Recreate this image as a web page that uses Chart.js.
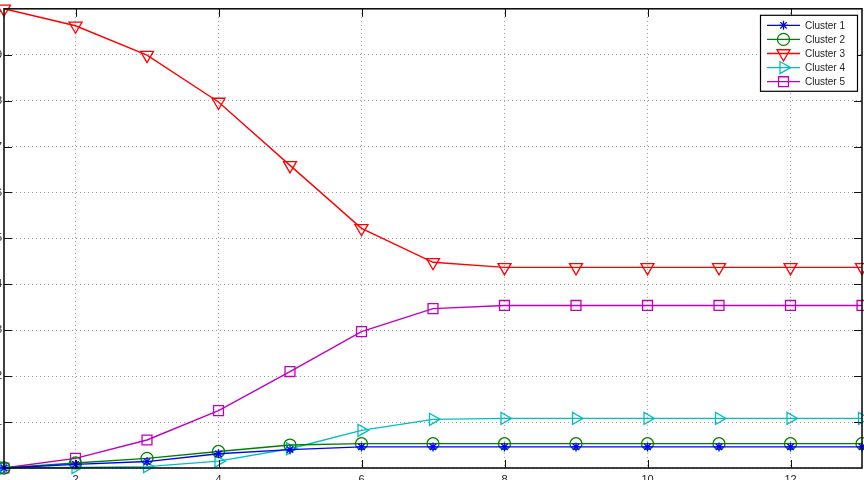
<!DOCTYPE html>
<html><head><meta charset="utf-8">
<script src="https://cdn.jsdelivr.net/npm/chart.js@4/dist/chart.umd.min.js"></script>
<style>
html,body{margin:0;padding:0;background:#fff;overflow:hidden;width:864px;height:480px;position:relative;}
#wrap{position:absolute;left:-60px;top:0;width:940px;height:500px;}
</style></head><body>
<div id="wrap"><canvas id="c"></canvas></div>
<script>
// ---- data ----
const iterations = [1, 2, 3, 4, 5, 6, 7, 8, 9, 10, 11, 12, 13];
const seriesLabels = ['Cluster 1', 'Cluster 2', 'Cluster 3', 'Cluster 4', 'Cluster 5'];
const cluster1 = [0, 0.008, 0.014, 0.031, 0.040, 0.046, 0.046, 0.046, 0.046, 0.046, 0.046, 0.046, 0.046];
const cluster2 = [0, 0.011, 0.021, 0.036, 0.050, 0.053, 0.053, 0.053, 0.053, 0.053, 0.053, 0.053, 0.053];
const cluster3 = [1.0, 0.963, 0.899, 0.797, 0.659, 0.522, 0.448, 0.437, 0.437, 0.437, 0.437, 0.437, 0.437];
const cluster4 = [0, 0.001, 0.003, 0.015, 0.042, 0.082, 0.106, 0.108, 0.108, 0.108, 0.108, 0.108, 0.108];
const cluster5 = [0, 0.021, 0.061, 0.125, 0.210, 0.297, 0.347, 0.354, 0.354, 0.354, 0.354, 0.354, 0.354];
const xTicks = [2, 4, 6, 8, 10, 12];
const yTicks = [0, 0.1, 0.2, 0.3, 0.4, 0.5, 0.6, 0.7, 0.8, 0.9, 1];
const yTickLabels = ['0', '0.1', '0.2', '0.3', '0.4', '0.5', '0.6', '0.7', '0.8', '0.9', '1'];

// ---- styles ----
const seriesValues = [cluster1, cluster2, cluster3, cluster4, cluster5];
const colors = ['#0000ff', '#008000', '#ff0000', '#00bfbf', '#bf00bf'];
const markers = [
  {style: 'star', rot: 0, r: 4.5},
  {style: 'circle', rot: 0, r: 6},
  {style: 'triangle', rot: 180, r: 7.5},
  {style: 'triangle', rot: 90, r: 7},
  {style: 'rect', rot: 0, r: 7}
];

const datasets = seriesLabels.map((lab, k) => ({
  label: lab,
  data: iterations.map((x, i) => ({x: x, y: seriesValues[k][i]})),
  borderColor: colors[k],
  backgroundColor: 'transparent',
  pointBackgroundColor: 'transparent',
  pointBorderColor: colors[k],
  pointStyle: markers[k].style,
  pointRotation: markers[k].rot,
  pointRadius: markers[k].r,
  pointHoverRadius: markers[k].r,
  pointBorderWidth: 1.3,
  borderWidth: 1.4,
  tension: 0,
  clip: false
}));

const framePlugin = {
  id: 'frame',
  afterDatasetsDraw(chart) {
    const {ctx, chartArea: a, scales} = chart;
    ctx.save();
    ctx.strokeStyle = '#111';
    ctx.lineWidth = 1;
    const tl = 8;
    ctx.beginPath();
    xTicks.forEach(v => {
      const px = Math.round(scales.x.getPixelForValue(v)) + 0.5;
      ctx.moveTo(px, a.bottom); ctx.lineTo(px, a.bottom - tl);
      ctx.moveTo(px, a.top); ctx.lineTo(px, a.top + tl);
    });
    yTicks.slice(1, -1).forEach(v => {
      const py = Math.round(scales.y.getPixelForValue(v)) + 0.5;
      ctx.moveTo(a.left, py); ctx.lineTo(a.left + tl, py);
      ctx.moveTo(a.right, py); ctx.lineTo(a.right - tl, py);
    });
    ctx.stroke();
    ctx.lineWidth = 1.6;
    ctx.strokeRect(a.left, a.top, a.right - a.left, a.bottom - a.top);
    ctx.restore();
  },
  afterDraw(chart) {
    const {ctx, chartArea: a} = chart;
    const w = 97, h = 76;
    const left = a.right - 5 - w, top = a.top + 6;
    ctx.save();
    ctx.fillStyle = '#fff';
    ctx.fillRect(left, top, w, h);
    ctx.strokeStyle = '#000';
    ctx.lineWidth = 1.2;
    ctx.strokeRect(left + 0.5, top + 0.5, w, h);
    ctx.font = '10px "Liberation Sans", Arial, sans-serif';
    ctx.textBaseline = 'middle';
    ctx.textAlign = 'left';
    chart.data.datasets.forEach((ds, i) => {
      const y = top + 10.5 + i * 14.1;
      ctx.strokeStyle = ds.borderColor;
      ctx.lineWidth = 1.3;
      ctx.beginPath();
      ctx.moveTo(left + 7, y); ctx.lineTo(left + 40, y);
      ctx.stroke();
      ctx.fillStyle = 'rgba(0,0,0,0)';
      ctx.strokeStyle = ds.borderColor;
      Chart.helpers.drawPoint(ctx, {
        pointStyle: ds.pointStyle, rotation: ds.pointRotation,
        radius: ds.pointRadius, borderWidth: 1.2
      }, left + 23.5, y);
      ctx.fillStyle = '#222';
      ctx.fillText(ds.label, left + 45, y + 0.5);
    });
    ctx.restore();
  }
};

new Chart(document.getElementById('c'), {
  type: 'line',
  data: {datasets: datasets},
  options: {
    responsive: true,
    maintainAspectRatio: false,
    animation: false,
    devicePixelRatio: 1,
    layout: {padding: {top: 8, right: 18, left: 0, bottom: 0}},
    plugins: {legend: {display: false}, tooltip: {enabled: false}},
    scales: {
      x: {
        type: 'linear', min: 1, max: 13,
        afterBuildTicks: s => { s.ticks = xTicks.map(v => ({value: v})); },
        afterFit: s => { s.height = 32; },
        grid: {color: '#9a9a9a', lineWidth: 1, drawTicks: false, borderDash: [1, 3]},
        border: {display: false, dash: [1, 3]},
        ticks: {color: '#222', padding: 5, font: {family: '"Liberation Sans", Arial, sans-serif', size: 11}, maxRotation: 0}
      },
      y: {
        type: 'linear', min: 0, max: 1,
        afterBuildTicks: s => { s.ticks = yTicks.map(v => ({value: v})); },
        afterFit: s => { s.width = 64; },
        grid: {color: '#9a9a9a', lineWidth: 1, drawTicks: false, borderDash: [1, 3]},
        border: {display: false, dash: [1, 3]},
        ticks: {color: '#222', padding: 2, font: {family: '"Liberation Sans", Arial, sans-serif', size: 11},
          callback: (v, i) => yTickLabels[i]}
      }
    }
  },
  plugins: [framePlugin]
});
</script>
</body></html>
